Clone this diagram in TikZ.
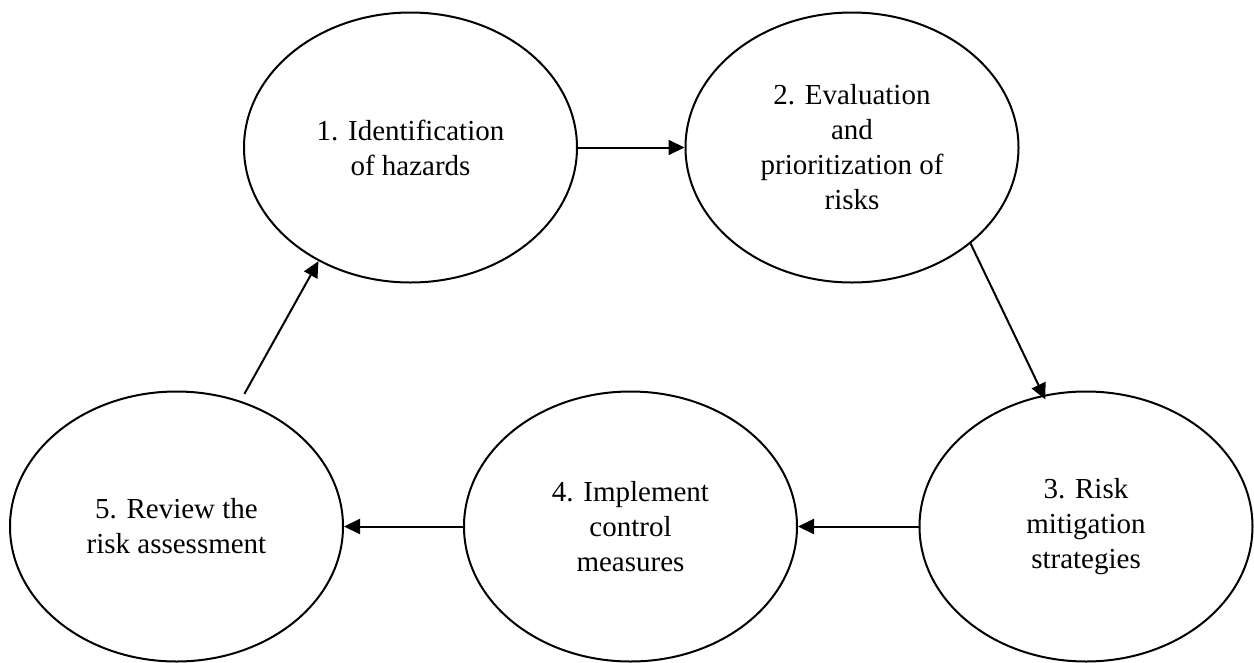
\documentclass[tikz,border=0pt]{standalone}
\usepackage{fontspec}
\setmainfont{Liberation Serif}
\usetikzlibrary{shapes.geometric,arrows.meta}
\begin{document}
\begin{tikzpicture}[x=1pt,y=-1pt,
  stage/.style={ellipse,draw=black,line width=2pt,minimum width=333pt,minimum height=270pt,inner sep=0pt,align=center,font=\fontsize{29}{35}\selectfont},
  arr/.style={line width=2pt,-{Triangle[length=16pt,width=15pt]}}]
\useasboundingbox (0,0) rectangle (1254,662);
\node[stage] (e1) at (410.5,147.5) {1. Identification\\of hazards};
\node[stage] (e2) at (852,147.5) {2. Evaluation\\and\\prioritization of\\risks};
\node[stage] (e3) at (1086,526.5) {3. Risk\\mitigation\\strategies};
\node[stage] (e4) at (630.5,526.5) {4. Implement\\control\\measures};
\node[stage] (e5) at (176.5,526.5) {5. Review the\\risk assessment};
\draw[arr] (e1) -- (e2);
\draw[arr,shorten >=-5pt] (e2.-39) -- (e3.108);
\draw[arr] (e3) -- (e4);
\draw[arr] (e4) -- (e5);
\draw[arr,shorten <=8pt] (e5.63) -- (e1.231.5);
\end{tikzpicture}
\end{document}
